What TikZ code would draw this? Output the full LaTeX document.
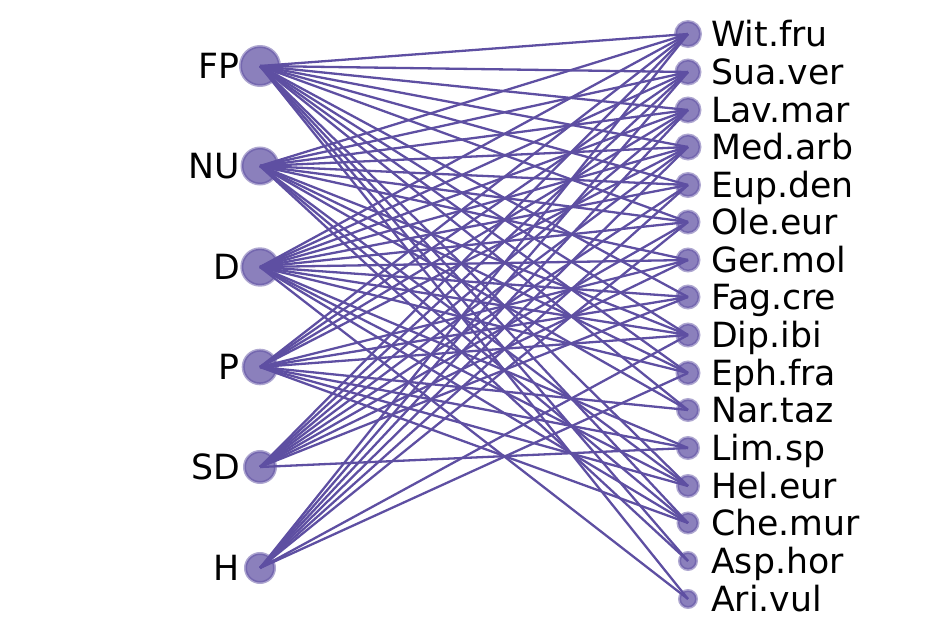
\documentclass[tikz,border=0pt]{standalone}
\usepackage{fontspec}
\setmainfont{DejaVu Sans}
\definecolor{ec}{HTML}{5E4FA2}
\tikzset{
  vnode/.style={circle, inner sep=0pt, fill=ec, fill opacity=0.72, draw=ec, draw opacity=0.5, line width=3pt},
  lab/.style={font=\fontsize{34.7}{40}\selectfont, inner sep=0pt, text=black},
  link/.style={draw=ec, line width=2.3pt}
}
\begin{document}
\begin{tikzpicture}[x=1pt,y=-1pt]
\useasboundingbox (0,0) rectangle (950,636);
% left nodes
\foreach \n/\yy/\r in {FP/66/21, NU/166/19.5, D/267/19.7, P/367/18.3, SD/467/17, H/568/16}{
  \node[vnode, minimum size={2*\r-3}] (\n) at (260,\yy) {};
  \node[lab, anchor=base east] (l\n) at (240,\yy+12.6) {\n};
}
% right nodes
\foreach \i/\n/\yy/\r in {1/Wit.fru/34/14, 2/Sua.ver/72/13.5, 3/Lav.mar/110/13.5, 4/Med.arb/147/13.5, 5/Eup.den/185/13, 6/Ole.eur/222/12.5, 7/Ger.mol/260/12.5, 8/Fag.cre/297/12.5, 9/Dip.ibi/335/12.5, 10/Eph.fra/373/12.5, 11/Nar.taz/410/12, 12/Lim.sp/448/12, 13/Hel.eur/486/12, 14/Che.mur/523/11.5, 15/Asp.hor/561/10, 16/Ari.vul/599/10}{
  \node[vnode, minimum size={2*\r-3}] (r\i) at (688,\yy) {};
  \node[lab, anchor=base west] (lr\i) at (711,\yy+12.6) {\n};
}
% links
\foreach \s/\tl in {FP/{1,2,3,4,5,6,8,9,10,11,13,14,15,16},
                    NU/{1,2,3,4,5,6,7,9,10,11,13,14,15},
                    D/{1,2,3,4,5,6,7,8,9,10,12,13,14,16},
                    P/{1,2,3,4,7,8,9,11,12,13,14},
                    SD/{1,2,3,4,5,6,7,8,12},
                    H/{1,2,3,4,5,6,9,10}}{
  \foreach \t in \tl {
    \draw[link] (\s.center) -- (r\t.center);
  }
}
\end{tikzpicture}
\end{document}
